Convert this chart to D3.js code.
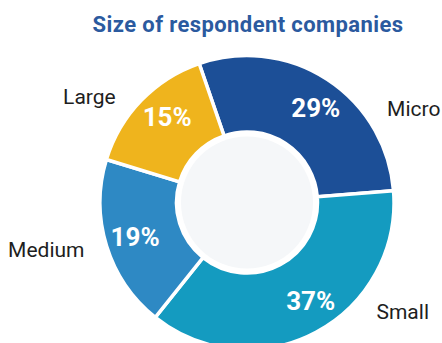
<!DOCTYPE html>
<html>
<head>
<meta charset="utf-8">
<script src="https://cdn.jsdelivr.net/npm/d3@7"></script>
<style>
  html, body { margin: 0; padding: 0; background: #ffffff; }
  svg { display: block; font-family: Roboto, "Noto Sans", sans-serif; }
</style>
</head>
<body>
<svg id="chart" width="442" height="343"></svg>
<script>
// Company size breakdown (share of respondents, %)
const categories = ["Micro", "Small", "Medium", "Large"];
const shares = [29, 37, 19, 15];
const colors = ["#1c4f97", "#149bc0", "#2e89c4", "#efb41d"];
const title = "Size of respondent companies";

// Label placement around the ring (degrees clockwise from 12 o'clock)
const nameAngle = { Micro: 56, Small: 130, Medium: 254, Large: -51 };
const pctAngle = { Micro: 36, Small: 147, Medium: 253, Large: -43 };

const width = 442, height = 343;
const cx = 247, cy = 202.5;
const outerR = 147, innerR = 70.5, holeR = 66;

const svg = d3.select("#chart");

svg.append("text")
  .attr("x", 248)
  .attr("y", 32)
  .attr("text-anchor", "middle")
  .attr("fill", "#2b5a9f")
  .attr("font-size", 22)
  .attr("font-weight", 700)
  .attr("letter-spacing", 0.4)
  .text(title);

const data = categories.map((c, i) => ({ name: c, value: shares[i], color: colors[i] }));

const startA = -19 * Math.PI / 180;
const pie = d3.pie()
  .value(d => d.value)
  .sort(null)
  .startAngle(startA)
  .endAngle(startA + 2 * Math.PI);

const arc = d3.arc().innerRadius(innerR).outerRadius(outerR);

const g = svg.append("g").attr("transform", `translate(${cx},${cy})`);

const arcs = pie(data);

g.selectAll("path.slice")
  .data(arcs)
  .join("path")
  .attr("class", "slice")
  .attr("d", arc)
  .attr("fill", d => d.data.color)
  .attr("stroke", "#ffffff")
  .attr("stroke-width", 3.5)
  .attr("stroke-linejoin", "miter");

// centre disc
g.append("circle")
  .attr("r", holeR)
  .attr("fill", "#f5f7f9");

const polar = (deg, r) => {
  const a = deg * Math.PI / 180;
  return [r * Math.sin(a), -r * Math.cos(a)];
};

// percentage labels inside the ring
g.selectAll("text.pct")
  .data(arcs)
  .join("text")
  .attr("class", "pct")
  .attr("transform", d => `translate(${polar(pctAngle[d.data.name], 117)})`)
  .attr("text-anchor", "middle")
  .attr("dy", "0.36em")
  .attr("fill", "#ffffff")
  .attr("font-size", 26)
  .attr("font-weight", 700)
  .text(d => d.data.value + "%");

// category names outside the ring
g.selectAll("text.name")
  .data(arcs)
  .join("text")
  .attr("class", "name")
  .attr("transform", d => `translate(${polar(nameAngle[d.data.name], 169)})`)
  .attr("text-anchor", d => {
    const a = nameAngle[d.data.name];
    return (a > 0 && a < 180) ? "start" : "end";
  })
  .attr("dy", "0.36em")
  .attr("fill", "#1e1e1e")
  .attr("font-size", 21)
  .attr("font-weight", 400)
  .text(d => d.data.name);
</script>
</body>
</html>
